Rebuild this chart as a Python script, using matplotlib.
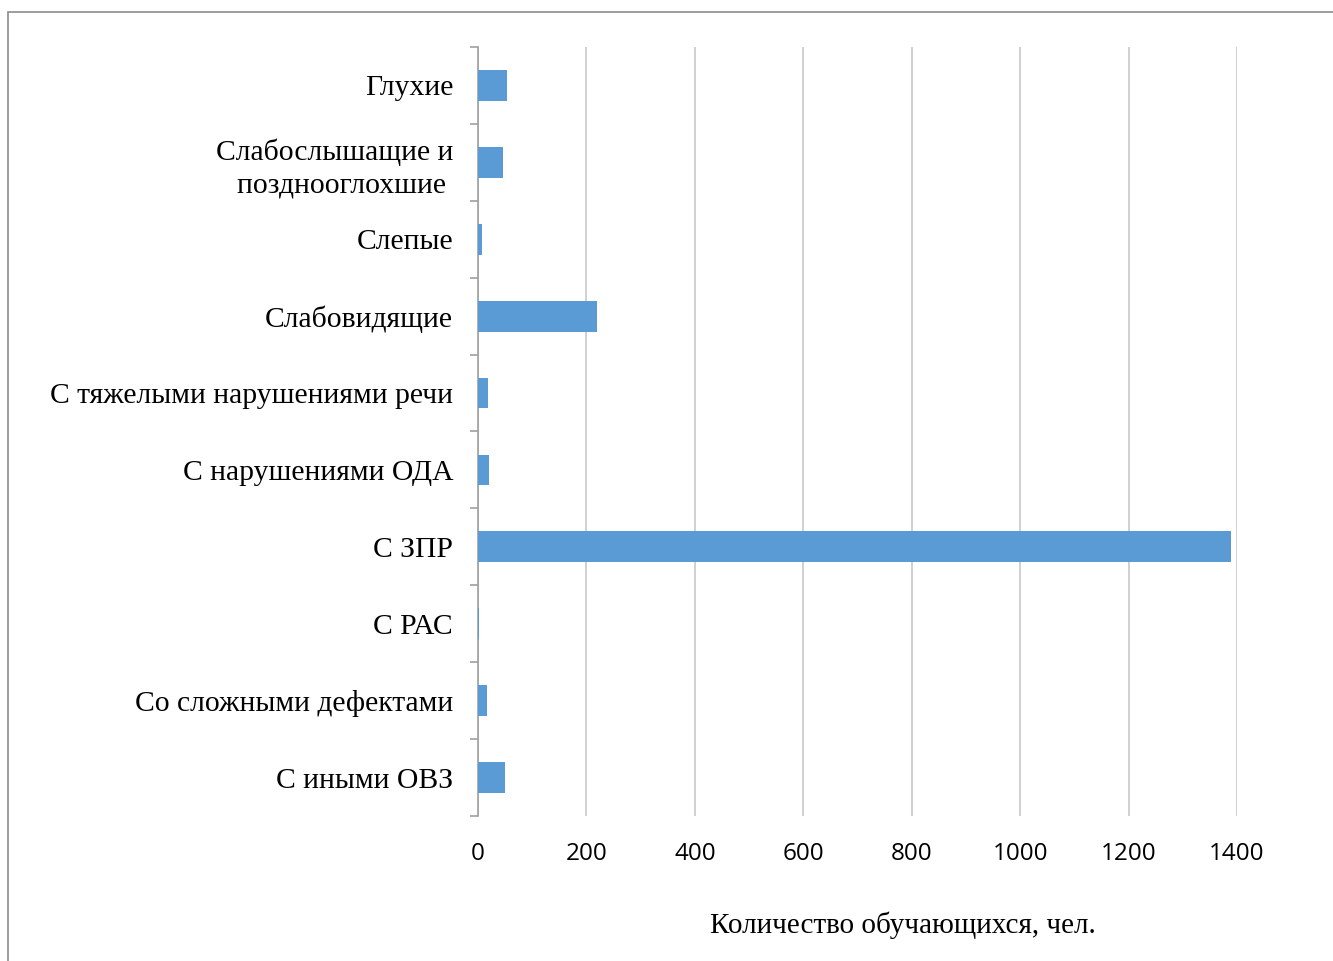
import matplotlib.pyplot as plt
from matplotlib.patches import Rectangle

categories = ["Глухие", "Слабослышащие и\nпозднооглохшие ", "Слепые", "Слабовидящие",
              "С тяжелыми нарушениями речи", "С нарушениями ОДА", "С ЗПР", "С РАС",
              "Со сложными дефектами", "С иными ОВЗ"]
values = [54, 47, 8, 220, 19, 21, 1389, 1, 17, 49]
xticks = [0, 200, 400, 600, 800, 1000, 1200, 1400]

fig = plt.figure(figsize=(13.33, 9.61), dpi=100)
ax = fig.add_axes([0.3586, 0.1509, 0.5694, 0.8002])

# outer chart frame (cut off on right and bottom like the reference)
fig.patches.append(Rectangle((8 / 1333, -0.05), 1.2, 0.05 + 1 - 12 / 961,
                             transform=fig.transFigure, fill=False,
                             edgecolor='#8c8c8c', linewidth=1.2))

pos = list(range(len(categories)))
ax.barh(pos, values, height=0.4, color='#5B9BD5', zorder=3)
ax.set_ylim(len(categories) - 0.5, -0.5)
ax.set_xlim(0, 1400)

ax.set_yticks(pos)
ax.set_yticklabels(categories, fontsize=21.3, family='Liberation Serif', ha='right',
                   multialignment='right', linespacing=1.3)
ax.tick_params(axis='y', length=0, pad=18)
# boundary tick marks between categories
ax.set_yticks([p - 0.5 for p in range(len(categories) + 1)], minor=True)
ax.tick_params(axis='y', which='minor', length=6, color='#a0a0a0', width=1.2)

ax.set_xticks(xticks)
ax.set_xticklabels([str(t) for t in xticks], fontsize=17.5, family='Open Sans')
ax.tick_params(axis='x', length=0, pad=19)
ax.grid(axis='x', color='#c8c8c8', linewidth=1.2, zorder=0)

for s in ['top', 'right', 'bottom']:
    ax.spines[s].set_visible(False)
ax.spines['left'].set_color('#a0a0a0')
ax.spines['left'].set_linewidth(1.2)

fig.text(903 / 1333, 1 - 925 / 961, "Количество обучающихся, чел.", fontsize=21,
         family='Liberation Serif', ha='center', va='center')

fig.savefig("out.png", dpi=100)
